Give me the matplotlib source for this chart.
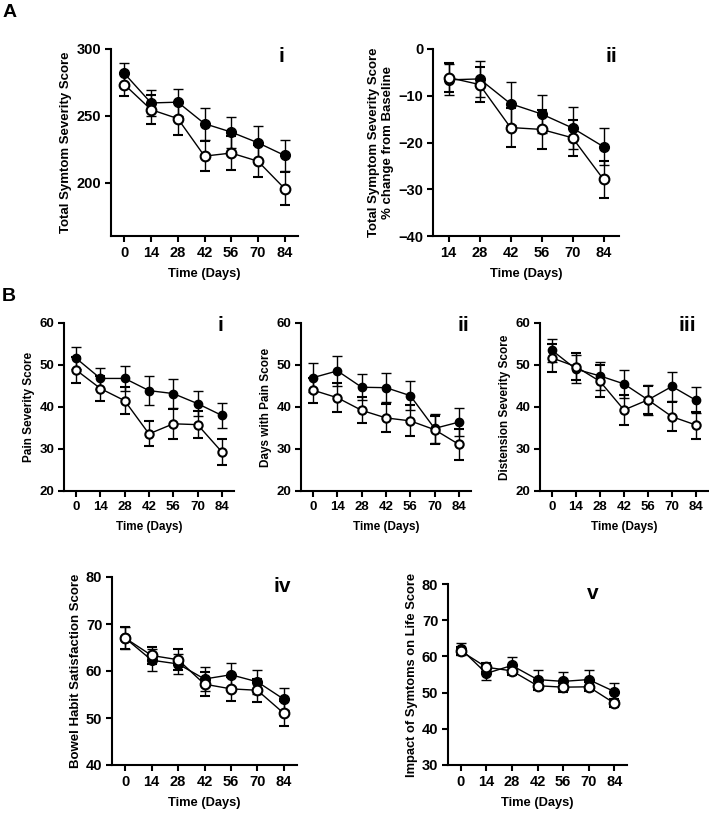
import numpy as np
from matplotlib import pyplot as plt

plt.rcParams['font.family'] = ['Liberation Sans', 'DejaVu Sans']
plt.rcParams['font.weight'] = 'bold'

days = [0, 14, 28, 42, 56, 70, 84]
days_pct = [14, 28, 42, 56, 70, 84]

# A i - total symptom severity
tss_filled = [281.7, 259.6, 260.2, 244.1, 237.8, 229.8, 220.3]
tss_filled_err = [8, 10, 10, 12, 11.6, 12.6, 11.5]
tss_open = [273.4, 254.6, 247.9, 219.8, 222.1, 216.0, 195.5]
tss_open_err = [8.5, 11, 12, 11.5, 12.6, 12.2, 12.5]

# A ii - % change from baseline
pct_filled = [-6.6, -6.4, -11.7, -13.9, -16.9, -20.9]
pct_filled_err = [3.3, 3.9, 4.6, 4.0, 4.5, 4.0]
pct_open = [-6.1, -7.6, -16.8, -17.2, -19.0, -27.9]
pct_open_err = [3.1, 3.8, 4.2, 4.2, 3.9, 3.9]

# B i - pain severity
pain_filled = [51.6, 46.8, 46.8, 43.9, 43.2, 40.8, 38.0]
pain_filled_err = [2.6, 2.6, 3.0, 3.4, 3.4, 3.0, 2.9]
pain_open = [48.8, 44.4, 41.5, 33.6, 36.0, 35.8, 29.3]
pain_open_err = [3.0, 3.0, 3.2, 3.0, 3.5, 3.2, 3.2]

# B ii - days with pain
dwp_filled = [47.0, 48.6, 44.7, 44.6, 42.7, 34.9, 36.4]
dwp_filled_err = [3.4, 3.6, 3.1, 3.5, 3.5, 3.5, 3.4]
dwp_open = [44.0, 42.2, 39.2, 37.4, 36.7, 34.6, 31.1]
dwp_open_err = [3.0, 3.5, 3.1, 3.4, 3.7, 3.3, 3.6]

# B iii - distension severity
dist_filled = [53.5, 49.0, 47.4, 45.5, 41.7, 44.9, 41.6]
dist_filled_err = [2.7, 3.4, 3.3, 3.4, 3.5, 3.5, 3.1]
dist_open = [51.7, 49.6, 46.1, 39.3, 41.7, 37.7, 35.7]
dist_open_err = [3.3, 3.2, 3.8, 3.5, 3.4, 3.4, 3.2]

# B iv - bowel habit satisfaction
bowel_filled = [67.0, 62.3, 61.5, 58.3, 59.2, 57.7, 54.0]
bowel_filled_err = [2.4, 2.4, 2.2, 2.6, 2.6, 2.5, 2.4]
bowel_open = [67.0, 63.3, 62.4, 57.2, 56.2, 55.9, 51.0]
bowel_open_err = [2.4, 1.8, 2.2, 2.5, 2.5, 2.4, 2.7]

# B v - impact on life
life_filled = [62.1, 55.3, 57.5, 53.6, 53.1, 53.6, 50.3]
life_filled_err = [1.7, 1.9, 2.2, 2.6, 2.5, 2.7, 2.4]
life_open = [61.5, 57.0, 56.0, 51.9, 51.5, 51.6, 47.1]
life_open_err = [1.2, 1.2, 1.2, 1.2, 1.2, 1.2, 1.2]

W, H = 709, 815
fig = plt.figure(figsize=(W / 100, H / 100), dpi=100)


def px_axes(l, t, r, b):
    return fig.add_axes([l / W, 1 - b / H, (r - l) / W, (b - t) / H])


def panel(ax, x, yf, ef, yo, eo, ylim, yticks, ylabel, roman, rx, ry,
          tick_fs, ylab_fs, xlab_fs, ms, xlim=(-7, 91)):
    ax.errorbar(x, yf, yerr=ef, color='black', lw=1, capsize=3.5, capthick=1,
                marker='o', ms=ms, mfc='black', mec='black', zorder=2)
    ax.errorbar(x, yo, yerr=eo, color='black', lw=1, capsize=3.5, capthick=1,
                marker='o', ms=ms, mfc='white', mec='black', mew=1.5, zorder=3)
    ax.set_xlim(*xlim)
    ax.set_ylim(*ylim)
    ax.set_xticks(x)
    ax.set_yticks(yticks)
    for s in ['top', 'right']:
        ax.spines[s].set_visible(False)
    for s in ['left', 'bottom']:
        ax.spines[s].set_linewidth(1.5)
    ax.tick_params(width=1.5, length=4, labelsize=tick_fs, pad=3)
    ax.set_ylabel(ylabel, fontsize=ylab_fs, fontweight='bold', labelpad=3)
    ax.set_xlabel('Time (Days)', fontsize=xlab_fs, fontweight='bold', labelpad=6)
    ax.text(rx, ry, roman, transform=ax.transAxes, ha='center', va='top',
            fontsize=15, fontweight='heavy')


ax1 = px_axes(111, 49, 298, 236)
panel(ax1, days, tss_filled, tss_filled_err, tss_open, tss_open_err,
      (160, 300), [200, 250, 300], 'Total Symtom Severity Score', 'i', 0.914, 1.01,
      10.5, 9.5, 9.3, 7)

ax2 = px_axes(433, 49, 619, 236)
panel(ax2, days_pct, pct_filled, pct_filled_err, pct_open, pct_open_err,
      (-40, 0), [-40, -30, -20, -10, 0],
      'Total Symptom Severity Score\n% change from Baseline', 'ii', 0.96, 1.01,
      10.5, 9.5, 9.3, 7, xlim=(7, 91))

ax3 = px_axes(64, 323, 234, 491)
panel(ax3, days, pain_filled, pain_filled_err, pain_open, pain_open_err,
      (20, 60), [20, 30, 40, 50, 60], 'Pain Severity Score', 'i', 0.918, 1.04,
      9.5, 8.5, 8.5, 6)

ax4 = px_axes(301, 323, 471, 491)
panel(ax4, days, dwp_filled, dwp_filled_err, dwp_open, dwp_open_err,
      (20, 60), [20, 30, 40, 50, 60], 'Days with Pain Score', 'ii', 0.953, 1.04,
      9.5, 8.5, 8.5, 6)

ax5 = px_axes(540, 323, 708, 491)
panel(ax5, days, dist_filled, dist_filled_err, dist_open, dist_open_err,
      (20, 60), [20, 30, 40, 50, 60], 'Distension Severity Score', 'iii', 0.875, 1.04,
      9.5, 8.5, 8.5, 6)

ax6 = px_axes(112, 577, 297, 765)
panel(ax6, days, bowel_filled, bowel_filled_err, bowel_open, bowel_open_err,
      (40, 80), [40, 50, 60, 70, 80], 'Bowel Habit Satisfaction Score', 'iv', 0.92, 1.0,
      10.5, 9.5, 9.3, 7)

ax7 = px_axes(448, 584, 627, 765)
panel(ax7, days, life_filled, life_filled_err, life_open, life_open_err,
      (30, 80), [30, 40, 50, 60, 70, 80], 'Impact of Symtoms on Life Score', 'v', 0.81, 1.0,
      10.5, 9.3, 9.3, 7)

fig.text(3 / W, 1 - 4 / H, 'A', fontsize=14, fontweight='bold', va='top')
fig.text(2 / W, 1 - 288 / H, 'B', fontsize=14, fontweight='bold', va='top')

fig.savefig('out.png', dpi=100)
